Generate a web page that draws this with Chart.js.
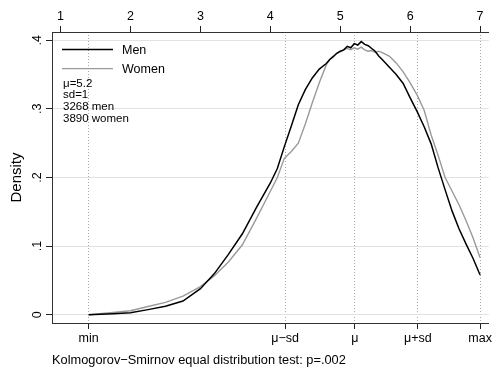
<!DOCTYPE html>
<html>
<head>
<meta charset="utf-8">
<script src="https://cdn.jsdelivr.net/npm/chart.js@4.4.1/dist/chart.umd.min.js"></script>
<style>
  body { margin: 0; background: #fff; }
  canvas { display: block; }
</style>
</head>
<body>
<canvas id="densityChart" width="494" height="372"></canvas>
<script>
// Values
const xValues = [1.4, 1.75, 2.0, 2.25, 2.5, 2.75, 3.0, 3.2, 3.4, 3.6, 3.8, 4.0, 4.1, 4.2, 4.3, 4.4, 4.5, 4.6, 4.7, 4.8,
    4.85, 4.9, 4.95, 5.0, 5.05, 5.1, 5.15, 5.2, 5.25, 5.3, 5.35, 5.4, 5.45, 5.5, 5.55, 5.6, 5.7, 5.8, 5.9, 6.0,
    6.1, 6.2, 6.3, 6.4, 6.5, 6.6, 6.7, 6.8, 6.9, 7.0];
const menDensity = [0, .0015, .003, .0075, .0125, .020, .038, .060, .088, .118, .156, .192, .213, .245, .275, .306, .328, .345, .358, .366,
    .372, .376, .381, .384, .386, .391, .389, .395, .393, .398, .394, .392, .388, .384, .377, .372, .361, .350, .337, .316,
    .296, .274, .249, .214, .182, .151, .125, .103, .082, .058];
const womenDensity = [0, .0033, .0058, .012, .018, .027, .041, .057, .077, .102, .140, .180, .200, .228, .238, .250, .278, .309, .338, .364,
    .372, .377, .381, .383, .386, .388, .386, .389, .387, .390, .386, .384, .385, .382, .384, .382, .377, .367, .354, .338,
    .320, .298, .262, .232, .200, .180, .160, .137, .112, .083];

const seriesLabels = ['Men', 'Women'];
const topTicks = [1, 2, 3, 4, 5, 6, 7];
const markerValues = [1.4, 4.21, 5.21, 6.11, 7.0];
const markerLabels = ['min', 'μ\u2212sd', 'μ', 'μ+sd', 'max'];
const yTicks = [0, 0.1, 0.2, 0.3, 0.4];
const statsLines = ['μ=5.2', 'sd=1', '3268 men', '3890 women'];
const footerText = 'Kolmogorov\u2212Smirnov equal distribution test: p=.002';

const FONT = 'Liberation Sans, Arial, Helvetica, sans-serif';

function toPoints(ys) {
    return xValues.map((x, i) => ({ x: x, y: ys[i] }));
}

function yLabel(v) {
    if (v === 0) return '0';
    return '.' + Math.round(v * 10);
}

// legend, stats text and rotated y labels
const extras = {
    id: 'extras',
    afterDraw(chart) {
        const ctx = chart.ctx;
        const area = chart.chartArea;
        const yScale = chart.scales.y;
        ctx.save();

        // y tick labels, rotated like Stata
        ctx.fillStyle = '#000';
        ctx.font = '12.5px ' + FONT;
        ctx.textAlign = 'center';
        ctx.textBaseline = 'alphabetic';
        yTicks.forEach(v => {
            const py = yScale.getPixelForValue(v);
            ctx.save();
            ctx.translate(41, py);
            ctx.rotate(-Math.PI / 2);
            ctx.fillText(yLabel(v), 0, 0);
            ctx.restore();
        });

        // legend
        ctx.textAlign = 'left';
        ctx.textBaseline = 'middle';
        chart.data.datasets.forEach((ds, i) => {
            const ly = area.top + 17.6 + i * 19;
            ctx.strokeStyle = ds.borderColor;
            ctx.lineWidth = ds.borderWidth;
            ctx.beginPath();
            ctx.moveTo(area.left + 10, ly);
            ctx.lineTo(area.left + 61, ly);
            ctx.stroke();
            ctx.fillStyle = '#000';
            ctx.fillText(ds.label, area.left + 70, ly + 0.5);
        });

        // stats
        ctx.font = '11.5px ' + FONT;
        statsLines.forEach((t, i) => {
            ctx.fillText(t, area.left + 11, area.top + 51.5 + i * 11.8);
        });
        ctx.restore();
    }
};

const ctx = document.getElementById('densityChart').getContext('2d');
new Chart(ctx, {
    type: 'line',
    data: {
        datasets: [{
            label: seriesLabels[0],
            data: toPoints(menDensity),
            borderColor: '#000000',
            borderWidth: 1.5,
            pointRadius: 0,
            tension: 0,
            xAxisID: 'x',
            yAxisID: 'y'
        }, {
            label: seriesLabels[1],
            data: toPoints(womenDensity),
            borderColor: '#9a9a9a',
            borderWidth: 1.4,
            pointRadius: 0,
            tension: 0,
            xAxisID: 'x',
            yAxisID: 'y'
        }]
    },
    options: {
        responsive: false,
        animation: false,
        devicePixelRatio: 1,
        layout: { padding: { left: 0, right: 5, top: 0, bottom: 0 } },
        plugins: {
            legend: { display: false },
            tooltip: { enabled: false }
        },
        scales: {
            x: {
                type: 'linear',
                position: 'top',
                min: 0.877,
                max: 7.124,
                afterBuildTicks: scale => { scale.ticks = topTicks.map(v => ({ value: v })); },
                afterFit: scale => { scale.height = 32; },
                ticks: {
                    color: '#000',
                    font: { family: FONT, size: 12.5 },
                    padding: 2,
                    maxRotation: 0
                },
                grid: {
                    drawOnChartArea: false,
                    drawTicks: true,
                    tickLength: 6,
                    tickColor: '#222'
                },
                border: { color: '#333', width: 1 }
            },
            x2: {
                type: 'linear',
                position: 'bottom',
                min: 0.877,
                max: 7.124,
                afterBuildTicks: scale => { scale.ticks = markerValues.map(v => ({ value: v })); },
                afterFit: scale => { scale.height = 49; },
                ticks: {
                    color: '#000',
                    font: { family: FONT, size: 12.5 },
                    padding: 2,
                    maxRotation: 0,
                    autoSkip: false,
                    callback: (value, index) => markerLabels[index]
                },
                grid: {
                    drawOnChartArea: true,
                    color: '#a8a8a8',
                    lineWidth: 1,
                    tickLength: 6,
                    tickColor: '#222',
                    tickBorderDash: []
                },
                border: { color: '#333', width: 1, dash: [1, 2] },
                title: {
                    display: true,
                    text: footerText,
                    align: 'start',
                    color: '#000',
                    font: { family: FONT, size: 12.8 },
                    padding: { top: 0, bottom: 4 }
                }
            },
            y: {
                type: 'linear',
                position: 'left',
                min: -0.012,
                max: 0.412,
                afterBuildTicks: scale => { scale.ticks = yTicks.map(v => ({ value: v })); },
                afterFit: scale => { scale.width = 52; },
                ticks: { display: false },
                grid: {
                    color: '#e2e2e2',
                    lineWidth: 1,
                    tickLength: 6,
                    tickColor: '#222'
                },
                border: { color: '#333', width: 1 },
                title: {
                    display: true,
                    text: 'Density',
                    color: '#000',
                    font: { family: FONT, size: 15 },
                    padding: { top: 8, bottom: 0 }
                }
            }
        }
    },
    plugins: [extras]
});
</script>
</body>
</html>
